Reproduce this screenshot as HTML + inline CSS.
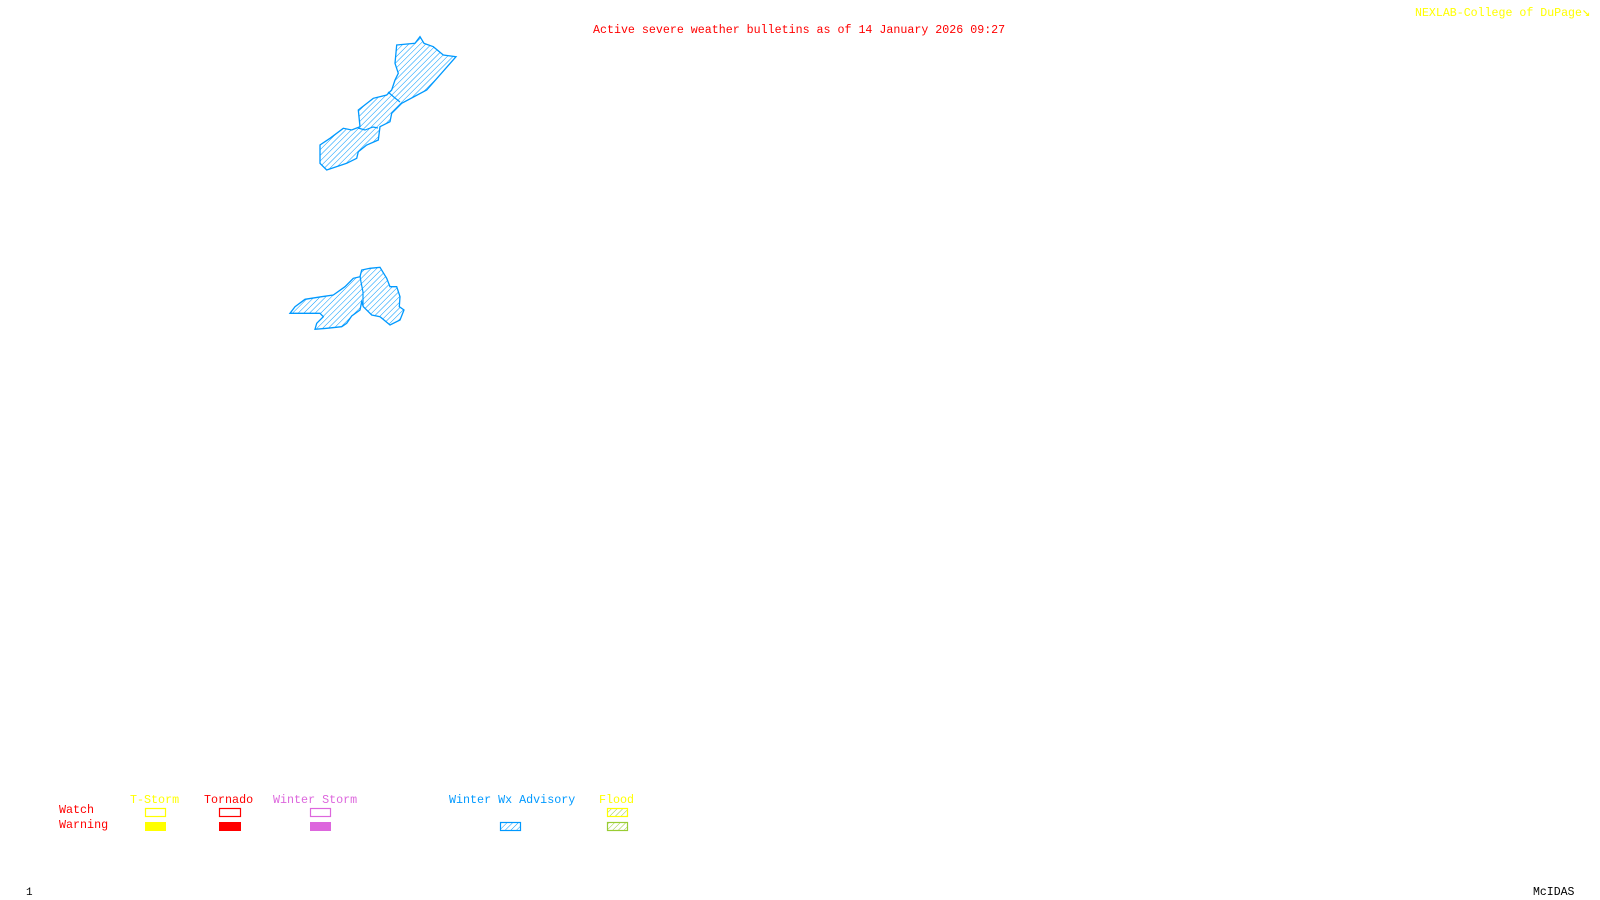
<!DOCTYPE html>
<html><head><meta charset="utf-8"><style>
html,body{margin:0;padding:0;background:#fff;}
body{width:1600px;height:900px;position:relative;overflow:hidden;font-family:"Liberation Mono",monospace;font-size:11.7px;}
.t{position:absolute;white-space:nowrap;line-height:1;}
</style></head><body>
<div class="t" style="left:593px;top:25px;color:#ff0000;font-size:11.65px">Active severe weather bulletins as of 14 January 2026 09:27</div>
<div class="t" style="left:1415px;top:6px;color:#ffff00;font-size:11.6px">NEXLAB-College of DuPage<span style="font-size:14px">&#8600;</span></div>

<svg width="1600" height="900" style="position:absolute;left:0;top:0">
<defs><pattern id="h" width="4" height="4" patternUnits="userSpaceOnUse" patternTransform="rotate(45)"><line x1="0" y1="0" x2="0" y2="4" stroke="#0099ff" stroke-width="1"/></pattern>
<pattern id="g" width="4" height="4" patternUnits="userSpaceOnUse" patternTransform="rotate(45)"><line x1="0" y1="0" x2="0" y2="4" stroke="#99cc33" stroke-width="1"/></pattern></defs>
<g fill="url(#h)" stroke="#0099ff" stroke-width="1.3">
<polygon points="396.7,45 415,43.3 420,36.7 424,43.3 433.3,46.7 443.3,55 456,56.7 426.7,90 401.7,103.3 391.7,113.3 390,121.7 380,126.7 378.3,140 366.7,145 358.3,151.7 356.7,158.3 346.7,163.3 326.7,170 320,163.3 320,145 330,138.3 343.3,128.3 351.7,130 360,126.7 358.3,110 373.3,98.3 386.7,95 391.7,90 395,80 398.3,73.3 395,63.3"/>
<polygon points="290,313.3 295,306.7 305,299.3 321.7,296.7 333.3,295 345,286.7 353.3,278.3 360,276.7 361.7,270 370,268.3 380,267.3 386.7,278.3 390,286.7 396.7,286.7 400,296.7 399.3,306.7 404,310 400,320 390,325 380,316.7 371.7,315 363.3,306.7 361.7,301.7 360,310 351.7,316 346.7,323.3 341.7,326.7 326.7,328.3 315,329.3 316.7,323.3 323.3,316.7 320,313.3"/>
</g>
<g fill="none" stroke="#0099ff" stroke-width="1.2">
<polyline points="388,92 395,98 400,102"/>
<polyline points="358,128 365,130 373,127 378,128"/>
<polyline points="360,276 361,282 363,292 363,306"/>
</g>
<g fill="none" stroke-width="1.2">
<rect x="145.5" y="808.5" width="20" height="8" stroke="#ffff00"/>
<rect x="219.5" y="808.5" width="21" height="8" stroke="#ff0000"/>
<rect x="310.5" y="808.5" width="20" height="8" stroke="#dd66dd"/>
<rect x="607.5" y="808.5" width="20" height="8" stroke="#ffff00" fill="url(#g)"/>
<rect x="500.5" y="822.5" width="20" height="8" stroke="#0099ff" fill="url(#h)"/>
<rect x="607.5" y="822.5" width="20" height="8" stroke="#99cc33" fill="url(#g)"/>
</g>
<rect x="145" y="822" width="21" height="9" fill="#ffff00"/>
<rect x="219" y="822" width="22" height="9" fill="#ff0000"/>
<rect x="310" y="822" width="21" height="9" fill="#dd66dd"/>
</svg>

<div class="t" style="left:130px;top:795px;color:#ffff00">T-Storm</div>
<div class="t" style="left:204px;top:795px;color:#ff0000">Tornado</div>
<div class="t" style="left:273px;top:795px;color:#dd66dd">Winter Storm</div>
<div class="t" style="left:449px;top:795px;color:#0099ff">Winter Wx Advisory</div>
<div class="t" style="left:599px;top:795px;color:#ffff00">Flood</div>
<div class="t" style="left:59px;top:805px;color:#ff0000">Watch</div>
<div class="t" style="left:59px;top:820px;color:#ff0000">Warning</div>
<div class="t" style="left:26px;top:888px;color:#000;font-size:11px">1</div>
<div class="t" style="left:1533px;top:887px;color:#000;font-size:11.5px">McIDAS</div>
</body></html>
